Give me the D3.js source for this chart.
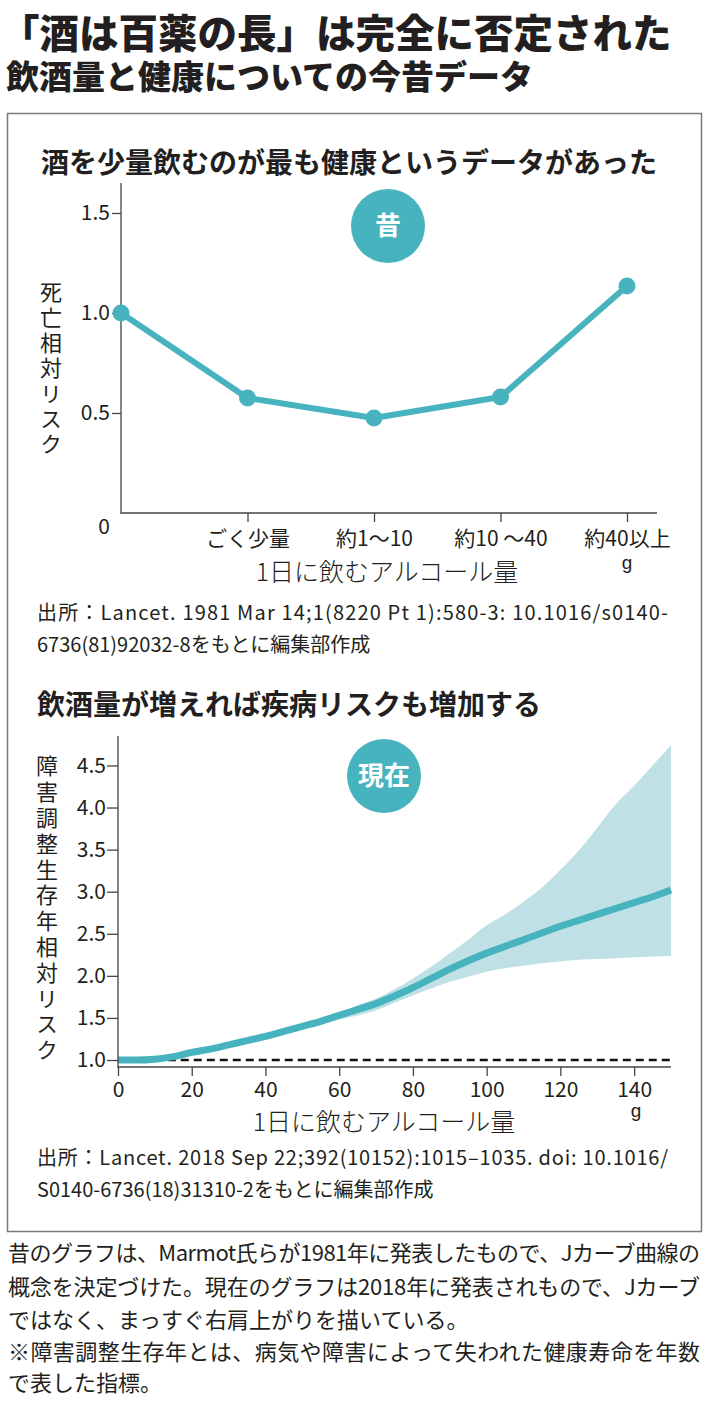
<!DOCTYPE html>
<html><head><meta charset="utf-8">
<script src="https://cdn.jsdelivr.net/npm/d3@7/dist/d3.min.js"></script>
<style>
html,body{margin:0;padding:0;background:#fff;}
svg{display:block;}
text{font-family:"Noto Sans CJK JP","Noto Sans",sans-serif;fill:#231f20;}
</style></head>
<body>
<svg id="chart" width="710" height="1403"></svg>
<script>
// ---------- data ----------
const titleMain = "「酒は百薬の長」は完全に否定された";
const titleSub = "飲酒量と健康についての今昔データ";

const oldTitle = "酒を少量飲むのが最も健康というデータがあった";
const oldCategories = ["0", "ごく少量", "約1〜10", "約10 〜40", "約40以上"];
const oldRisk = [1.0, 0.575, 0.475, 0.58, 1.135];
const oldYTicks = [0.5, 1.0, 1.5];
const oldYLabel = "死亡相対リスク";
const oldSource = ["出所：Lancet. 1981 Mar 14;1(8220 Pt 1):580-3: 10.1016/s0140-",
                   "6736(81)92032-8をもとに編集部作成"];

const newTitle = "飲酒量が増えれば疾病リスクも増加する";
const newDose  = [0,5,10,15,20,25,30,35,40,45,50,55,60,65,70,75,80,85,90,95,100,105,110,115,120,125,130,135,140,145,150];
const newMean  = [1.00,1.00,1.01,1.04,1.09,1.13,1.18,1.23,1.28,1.34,1.40,1.46,1.53,1.60,1.67,1.76,1.86,1.97,2.08,2.18,2.27,2.35,2.43,2.51,2.59,2.66,2.73,2.80,2.87,2.94,3.02];
const newUpper = [1.00,1.00,1.02,1.05,1.10,1.14,1.19,1.24,1.30,1.36,1.43,1.50,1.57,1.65,1.73,1.84,1.97,2.11,2.27,2.43,2.60,2.73,2.88,3.05,3.26,3.49,3.76,4.04,4.26,4.50,4.74];
const newLower = [1.00,0.99,1.00,1.03,1.08,1.12,1.17,1.21,1.26,1.31,1.37,1.42,1.48,1.53,1.59,1.68,1.77,1.85,1.93,1.99,2.05,2.09,2.12,2.15,2.17,2.19,2.20,2.21,2.22,2.23,2.24];
const newXTicks = [0,20,40,60,80,100,120,140];
const newYTicks = [1.0,1.5,2.0,2.5,3.0,3.5,4.0,4.5];
const newRef = [{x:13.5,y:1.0},{x:150,y:1.0}];
const newYLabel = "障害調整生存年相対リスク";
const newSource = ["出所：Lancet. 2018 Sep 22;392(10152):1015–1035. doi: 10.1016/",
                   "S0140-6736(18)31310-2をもとに編集部作成"];

const xLabel = "1日に飲むアルコール量";
const notes = ["昔のグラフは、Marmot氏らが1981年に発表したもので、Jカーブ曲線の",
               "概念を決定づけた。現在のグラフは2018年に発表されもので、Jカーブ",
               "ではなく、まっすぐ右肩上がりを描いている。",
               "※障害調整生存年とは、病気や障害によって失われた健康寿命を年数",
               "で表した指標。"];

// ---------- drawing ----------
const TEAL = "#47b3be", BAND = "#bfe1e5", INK = "#231f20", AX = "#444";
const svg = d3.select("#chart");

svg.append("text").attr("x", 0).attr("y", 48).attr("font-size", 39.5).attr("font-weight", 900)
  .text(titleMain);
svg.append("text").attr("x", 6).attr("y", 89).attr("font-size", 33).attr("font-weight", 900)
  .text(titleSub);

svg.append("rect").attr("x", 7.5).attr("y", 113.5).attr("width", 694).attr("height", 1118)
  .attr("fill", "none").attr("stroke", "#7a7a7a").attr("stroke-width", 1.5);

function styleAxis(a) {
  a.select(".domain").remove();
  a.selectAll(".tick line").attr("stroke", AX).attr("stroke-width", 1.3);
  a.selectAll(".tick text").attr("fill", INK).attr("font-size", 21)
    .style("font-family", '"Noto Sans CJK JP",sans-serif');
}

// ===== chart 1 =====
svg.append("text").attr("x", 41).attr("y", 173).attr("font-size", 28).attr("font-weight", 700)
  .text(oldTitle);

const x1 = d3.scalePoint().domain(oldCategories).range([121, 627]);
const y1 = d3.scaleLinear().domain([0, 1.65]).range([513, 183]);

const g1 = svg.append("g");
const yAx1 = g1.append("g").attr("transform", "translate(121,0)")
  .call(d3.axisLeft(y1).tickValues(oldYTicks).tickFormat(d3.format(".1f")).tickSize(9).tickPadding(2).tickSizeOuter(0));
const xAx1 = g1.append("g").attr("transform", "translate(0,513)")
  .call(d3.axisBottom(x1).tickValues(oldCategories.slice(1)).tickSize(9).tickPadding(6).tickSizeOuter(0));
styleAxis(yAx1); styleAxis(xAx1);
xAx1.selectAll(".tick text").attr("dy", "0.85em");
g1.append("line").attr("x1", 121).attr("x2", 121).attr("y1", y1(1.65)).attr("y2", 513.5)
  .attr("stroke", AX).attr("stroke-width", 1.3);
g1.append("line").attr("x1", 120.5).attr("x2", 657).attr("y1", 513).attr("y2", 513)
  .attr("stroke", AX).attr("stroke-width", 1.3);
g1.append("text").attr("x", 104).attr("y", 534).attr("text-anchor", "middle").attr("font-size", 21)
  .text(oldCategories[0]);

g1.append("text").attr("x", 51).attr("y", 281).attr("font-size", 22)
  .style("writing-mode", "vertical-rl").style("letter-spacing", "3.3px").text(oldYLabel);

g1.append("text").attr("x", 387).attr("y", 581).attr("text-anchor", "middle").attr("font-size", 25)
  .attr("font-weight", 300).text(xLabel);
g1.append("text").attr("x", 627).attr("y", 569).attr("text-anchor", "middle").attr("font-size", 19)
  .style("font-family", '"Liberation Sans",sans-serif').text("g");

g1.append("circle").attr("cx", 388).attr("cy", 226).attr("r", 37).attr("fill", TEAL);
g1.append("text").attr("x", 388).attr("y", 235).attr("text-anchor", "middle").attr("font-size", 26)
  .attr("font-weight", 700).style("fill", "#fff").text("昔");

const pts1 = oldCategories.map((c, i) => ({c, v: oldRisk[i]}));
g1.append("path").datum(pts1)
  .attr("d", d3.line().x(d => x1(d.c)).y(d => y1(d.v)))
  .attr("fill", "none").attr("stroke", TEAL).attr("stroke-width", 6).attr("stroke-linejoin", "round");
g1.selectAll("circle.pt").data(pts1).join("circle").attr("class", "pt")
  .attr("cx", d => x1(d.c)).attr("cy", d => y1(d.v)).attr("r", 8.5).attr("fill", TEAL);

g1.append("text").attr("x", 37).attr("y", 620).attr("font-size", 20).attr("textLength", 631)
  .attr("lengthAdjust", "spacing").text(oldSource[0]);
g1.append("text").attr("x", 37).attr("y", 652).attr("font-size", 20).text(oldSource[1]);

// ===== chart 2 =====
svg.append("text").attr("x", 37).attr("y", 715).attr("font-size", 28).attr("font-weight", 700)
  .text(newTitle);

const x2 = d3.scaleLinear().domain([0, 150]).range([118, 671]);
const y2 = d3.scaleLinear().domain([0.917, 4.85]).range([1067, 736]);
const g2 = svg.append("g");

const band = newDose.map((d, i) => ({d, lo: newLower[i], hi: newUpper[i], m: newMean[i]}));
g2.append("path").datum(band)
  .attr("d", d3.area().x(d => x2(d.d)).y0(d => y2(d.lo)).y1(d => y2(d.hi)).curve(d3.curveMonotoneX))
  .attr("fill", BAND);
g2.append("path").datum(newRef)
  .attr("d", d3.line().x(d => x2(d.x)).y(d => y2(d.y)))
  .attr("stroke", "#111").attr("stroke-width", 2.5).attr("stroke-dasharray", "8,5").attr("fill", "none");
g2.append("path").datum(band)
  .attr("d", d3.line().x(d => x2(d.d)).y(d => y2(d.m)).curve(d3.curveMonotoneX))
  .attr("fill", "none").attr("stroke", TEAL).attr("stroke-width", 7);

const yAx2 = g2.append("g").attr("transform", "translate(118,0)")
  .call(d3.axisLeft(y2).tickValues(newYTicks).tickFormat(d3.format(".1f")).tickSize(11).tickPadding(1).tickSizeOuter(0));
const xAx2 = g2.append("g").attr("transform", "translate(0,1067)")
  .call(d3.axisBottom(x2).tickValues(newXTicks).tickSize(9).tickPadding(6).tickSizeOuter(0));
styleAxis(yAx2); styleAxis(xAx2);
xAx2.selectAll(".tick text").attr("dy", "0.72em");
g2.append("line").attr("x1", 118).attr("x2", 118).attr("y1", 736).attr("y2", 1067.5)
  .attr("stroke", AX).attr("stroke-width", 1.3);
g2.append("line").attr("x1", 117.5).attr("x2", 671).attr("y1", 1067).attr("y2", 1067)
  .attr("stroke", AX).attr("stroke-width", 1.3);

g2.append("text").attr("x", 47).attr("y", 755).attr("font-size", 22)
  .style("writing-mode", "vertical-rl").style("letter-spacing", "3.8px").text(newYLabel);

g2.append("circle").attr("cx", 384).attr("cy", 776).attr("r", 37).attr("fill", TEAL);
g2.append("text").attr("x", 384).attr("y", 785).attr("text-anchor", "middle").attr("font-size", 26)
  .attr("font-weight", 700).style("fill", "#fff").text("現在");

g2.append("text").attr("x", 384).attr("y", 1131).attr("text-anchor", "middle").attr("font-size", 25)
  .attr("font-weight", 300).text(xLabel);
g2.append("text").attr("x", 636).attr("y", 1117).attr("text-anchor", "middle").attr("font-size", 19)
  .style("font-family", '"Liberation Sans",sans-serif').text("g");

g2.append("text").attr("x", 37).attr("y", 1165).attr("font-size", 20).attr("textLength", 631)
  .attr("lengthAdjust", "spacing").text(newSource[0]);
g2.append("text").attr("x", 37).attr("y", 1197).attr("font-size", 20).text(newSource[1]);

// ===== notes =====
const noteY = [1261, 1295, 1328, 1360, 1391];
const justified = [true, true, false, true, false];
notes.forEach((t, i) => {
  const tx = svg.append("text").attr("x", 8).attr("y", noteY[i]).attr("font-size", 22).text(t);
  if (justified[i]) tx.attr("textLength", 692).attr("lengthAdjust", "spacing");
});
</script>
</body></html>
